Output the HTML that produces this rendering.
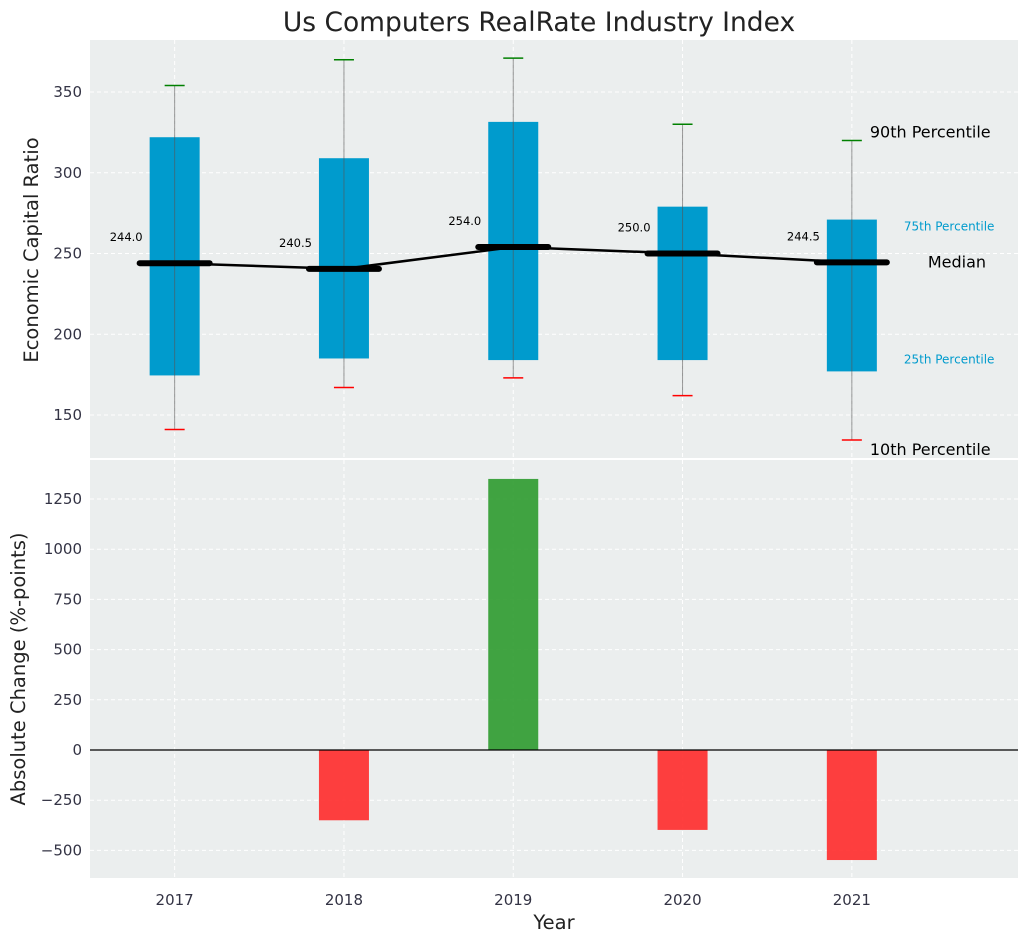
<!DOCTYPE html>
<html><head><meta charset="utf-8"><style>
body{margin:0;background:#fff}
text{font-family:"DejaVu Sans","Liberation Sans",sans-serif}
</style></head><body>
<svg id="chart" width="1029" height="942" xmlns="http://www.w3.org/2000/svg">
<text x="539" y="31" text-anchor="middle" font-size="26.5" fill="#222">Us Computers RealRate Industry Index</text>
<rect x="90" y="40" width="928" height="418" fill="#ebeeee"/>
<rect x="90" y="460" width="928" height="418" fill="#ebeeee"/>
<g id="grid"></g><g id="marks"></g><g id="labels"></g>
<text transform="translate(38,250) rotate(-90)" text-anchor="middle" font-size="19.5" fill="#222">Economic Capital Ratio</text>
<text transform="translate(25,669) rotate(-90)" text-anchor="middle" font-size="19.5" fill="#222">Absolute Change (%-points)</text>
<text x="554" y="929" text-anchor="middle" font-size="19.5" fill="#222">Year</text>
</svg>
<script>
const years=[2017,2018,2019,2020,2021];
const p10=[141,167,173,162,134.5];
const p25=[174.5,185,184,184,177];
const median=[244,240.5,254,250,244.5];
const p75=[322,309,331.5,279,271];
const p90=[354,370,371,330,320];
const changes=[0,-350,1350,-398,-548];
const topTicks=[150,200,250,300,350];
const botTicks=[-500,-250,0,250,500,750,1000,1250];
const NS="http://www.w3.org/2000/svg";
const xs=v=>90+(v-2016.5)*169.3;
const yt=v=>92+(350-v)*1.615;
const yb=v=>750-v*0.2008;
function mk(parent,tag,attrs,txt){const e=document.createElementNS(NS,tag);for(const k in attrs)e.setAttribute(k,attrs[k]);if(txt!==undefined)e.textContent=txt;document.getElementById(parent).appendChild(e);return e;}
years.forEach(y=>{
 const x=xs(y);
 let g=mk('grid','line',{x1:x,x2:x,y1:40,y2:458,stroke:'#fff','stroke-dasharray':'4,3'});
 
 g=mk('grid','line',{x1:x,x2:x,y1:460,y2:878,stroke:'#fff','stroke-dasharray':'4,3'});
 
 const t=mk('labels','text',{x:x,y:905,'text-anchor':'middle','font-size':15,fill:'#334'},y);
 
});
topTicks.forEach(v=>{const y=yt(v);
 const g=mk('grid','line',{x1:90,x2:1018,y1:y,y2:y,stroke:'#fff','stroke-dasharray':'4,3'});
 
 const t=mk('labels','text',{x:82,y:y+5,'text-anchor':'end','font-size':15,fill:'#334'},v);
 });
botTicks.forEach(v=>{const y=yb(v);
 const g=mk('grid','line',{x1:90,x2:1018,y1:y,y2:y,stroke:'#fff','stroke-dasharray':'4,3'});
 
 const t=mk('labels','text',{x:82,y:y+5,'text-anchor':'end','font-size':15,fill:'#334'},String(v).replace('-','\u2212'));
 });
const hw=25;
years.forEach((yr,i)=>{
 const x=xs(yr);
 let e=mk('marks','rect',{x:x-hw,y:yt(p75[i]),width:hw*2,height:yt(p25[i])-yt(p75[i]),fill:'#009bcd'});
 
 e=mk('marks','line',{x1:x,x2:x,y1:yt(p90[i]),y2:yt(p10[i]),stroke:'#555','stroke-opacity':0.6,'stroke-width':1});
 
 e=mk('marks','line',{x1:x-10,x2:x+10,y1:yt(p90[i]),y2:yt(p90[i]),stroke:'green','stroke-width':1.5});
 
 e=mk('marks','line',{x1:x-10,x2:x+10,y1:yt(p10[i]),y2:yt(p10[i]),stroke:'red','stroke-width':1.5});
 
 e=mk('marks','line',{x1:x-35,x2:x+35,y1:yt(median[i]),y2:yt(median[i]),stroke:'#000','stroke-width':6,'stroke-linecap':'round'});
 
 e=mk('labels','text',{x:x-32,y:yt(median[i])-22,'text-anchor':'end','font-size':11.5,fill:'#000'},median[i].toFixed(1));
 
 const c=changes[i];
 if(c!==0){e=mk('marks','rect',{x:x-hw,y:Math.min(yb(c),yb(0)),width:hw*2,height:Math.abs(yb(c)-yb(0)),fill:c>0?'#2e9a2e':'#ff2a2a','fill-opacity':0.9});
 }
});
let e=mk('marks','polyline',{points:years.map((y,i)=>xs(y)+','+yt(median[i])).join(' '),fill:'none',stroke:'#000','stroke-width':2.5});

e=mk('marks','line',{x1:90,x2:1018,y1:yb(0),y2:yb(0),stroke:'#000','stroke-width':1.2});

const last=years.length-1,lx=xs(years[last]);
e=mk('labels','text',{x:lx+18,y:yt(p90[last])-3,'font-size':16,fill:'#000'},'90th Percentile');

e=mk('labels','text',{x:lx+52,y:yt(p75[last])+11,'font-size':12,fill:'#009bcd'},'75th Percentile');

e=mk('labels','text',{x:lx+76,y:yt(median[last])+5,'font-size':16,fill:'#000'},'Median');

e=mk('labels','text',{x:lx+52,y:yt(p25[last])-8,'font-size':12,fill:'#009bcd'},'25th Percentile');

e=mk('labels','text',{x:lx+18,y:yt(p10[last])+15,'font-size':16,fill:'#000'},'10th Percentile');

</script>
</body></html>
